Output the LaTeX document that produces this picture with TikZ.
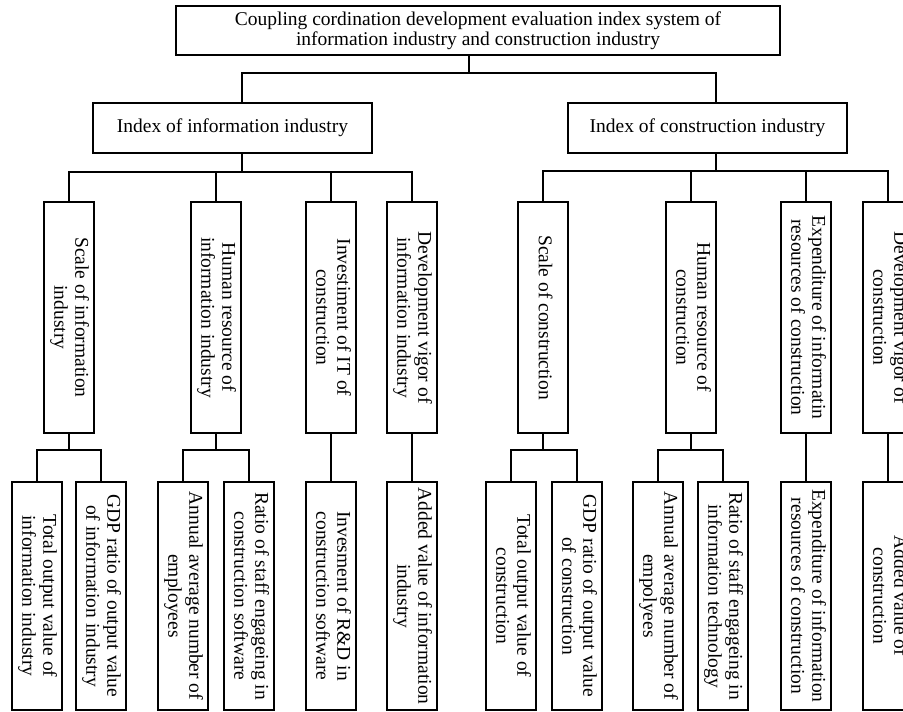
\documentclass[tikz,border=0pt]{standalone}
\usepackage{fontspec}
\setmainfont{Liberation Serif}
\usepackage{graphicx}
\usetikzlibrary{positioning,calc}
\newcommand{\vtext}[1]{\rotatebox{-90}{\begin{tabular}{@{}c@{}}#1\end{tabular}}}

\begin{document}
\begin{tikzpicture}[
    x=1pt, y=-1pt,
    topbox/.style={rectangle, draw, line width=2.2pt, align=center, inner sep=0pt, font=\fontsize{19.5}{20}\selectfont},
    vbox/.style={rectangle, draw, line width=2.2pt, inner sep=0pt, minimum width=50pt, font=\fontsize{19.5}{21}\selectfont},
    midbox/.style={vbox, minimum height=231pt},
    leafbox/.style={vbox, minimum height=228pt},
    link/.style={line width=2pt},
]
\useasboundingbox (0,0) rectangle (903,712);
\clip (0,0) rectangle (903,712);

\node[topbox, minimum width=604pt, minimum height=49pt] (root) at (478,30.5) {Coupling cordination development evaluation index system of\\information industry and construction industry};
\node[topbox, minimum width=279pt, minimum height=50pt] (info) at (232.5,128) {Index of information industry};
\node[topbox, minimum width=279pt, minimum height=50pt] (cons) at (707.5,128) {Index of construction industry};

\node[midbox] (s1) at (69,317.5) {\vtext{Scale of information\\industry}};
\node[midbox] (s2) at (216,317.5) {\vtext{Human resource of\\information industry}};
\node[midbox] (s3) at (331,317.5) {\vtext{Investiment of IT of\\construction}};
\node[midbox] (s4) at (412,317.5) {\vtext{Development vigor of\\information industry}};
\node[midbox] (s5) at (543,317.5) {\vtext{Scale of construction}};
\node[midbox] (s6) at (691,317.5) {\vtext{Human resource of\\construction}};
\node[midbox] (s7) at (806,317.5) {\vtext{Expenditure of informatin\\resources of construction}};
\node[midbox] (s8) at (888,317.5) {\vtext{Development vigor of\\construction}};

\node[leafbox] (t1) at (37,596) {\vtext{Total output value of\\information industry}};
\node[leafbox] (t2) at (101,596) {\vtext{GDP ratio of output value\\of information industry}};
\node[leafbox] (t3) at (183,596) {\vtext{Annual average number of\\employees}};
\node[leafbox] (t4) at (249,596) {\vtext{Ratio of staff engageing in\\construction software}};
\node[leafbox] (t5) at (331,596) {\vtext{Invesment of R\&D in\\construction software}};
\node[leafbox] (t6) at (412,596) {\vtext{Added value of information\\industry}};
\node[leafbox] (t7) at (511,596) {\vtext{Total output value of\\construction}};
\node[leafbox] (t8) at (577,596) {\vtext{GDP ratio of output value\\of construction}};
\node[leafbox] (t9) at (658,596) {\vtext{Annual average number of\\empolyees}};
\node[leafbox] (t10) at (723,596) {\vtext{Ratio of staff engageing in\\information technology}};
\node[leafbox] (t11) at (806,596) {\vtext{Expenditure of information\\resources of construction}};
\node[leafbox] (t12) at (888,596) {\vtext{Added value of\\construction}};

% root to the two indices
\draw[link] ([xshift=-9pt]root.south) -- ++(0,16.5) -| ([xshift=9pt]info.north);
\draw[link] ([xshift=-9pt]root.south) -- ++(0,16.5) -| ([xshift=8pt]cons.north);

% indices to second level
\draw[link] ([xshift=9pt]info.south) -- ++(0,18) -| (s1.north);
\draw[link] ([xshift=9pt]info.south) -- ++(0,18) -| (s2.north);
\draw[link] ([xshift=9pt]info.south) -- ++(0,18) -| (s3.north);
\draw[link] ([xshift=9pt]info.south) -- ++(0,18) -| (s4.north);
\draw[link] ([xshift=8pt]cons.south) -- ++(0,17) -| (s5.north);
\draw[link] ([xshift=8pt]cons.south) -- ++(0,17) -| (s6.north);
\draw[link] ([xshift=8pt]cons.south) -- ++(0,17) -| (s7.north);
\draw[link] ([xshift=8pt]cons.south) -- ++(0,17) -| (s8.north);

% second level to indicators
\draw[link] (s1.south) -- ++(0,16) -| (t1.north);
\draw[link] (s1.south) -- ++(0,16) -| (t2.north);
\draw[link] (s2.south) -- ++(0,16) -| (t3.north);
\draw[link] (s2.south) -- ++(0,16) -| (t4.north);
\draw[link] (s3.south) -- (t5.north);
\draw[link] (s4.south) -- (t6.north);
\draw[link] (s5.south) -- ++(0,16) -| (t7.north);
\draw[link] (s5.south) -- ++(0,16) -| (t8.north);
\draw[link] (s6.south) -- ++(0,16) -| (t9.north);
\draw[link] (s6.south) -- ++(0,16) -| (t10.north);
\draw[link] (s7.south) -- (t11.north);
\draw[link] (s8.south) -- (t12.north);
\end{tikzpicture}
\end{document}
